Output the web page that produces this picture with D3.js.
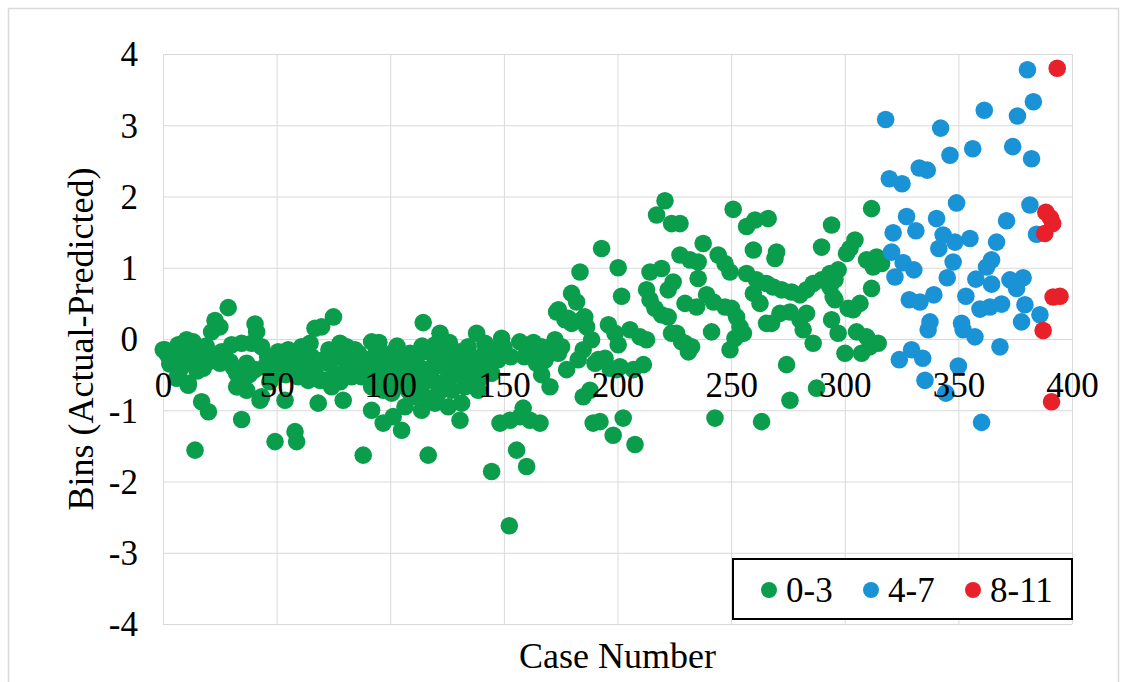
<!DOCTYPE html>
<html>
<head>
<meta charset="utf-8">
<script src="https://cdn.jsdelivr.net/npm/d3@7"></script>
<style>
  body { margin: 0; background: #fff; }
  text { font-family: "Liberation Serif", "Times New Roman", serif; fill: #000; }
</style>
</head>
<body>
<svg id="chart" width="1127" height="682"></svg>
<script>
// case number / bin difference
const green03 = [
  [0.1,-0.15],[0.9,-0.15],[2,-0.22],[4.5,-0.2],[4.5,-0.27],[6.7,-0.08],[6,-0.55],[6.7,-0.5],[8.9,-0.06],[9.7,-0.22],
  [10.4,-0.01],[10.4,-0.25],[11.1,-0.62],[11.1,-0.65],[11.9,-0.04],[13.3,-0.04],[14.1,-0.29],[14.1,-1.56],[14.8,-0.15],[17,-0.2],
  [17,-0.88],[17.7,-0.25],[17.7,-0.41],[20,-0.32],[20,-1.02],[21.4,0.1],[22.9,0.26],[25,0.17],[25.8,-0.18],[25.1,-0.34],
  [28.7,0.44],[29.5,-0.32],[30.2,-0.08],[32.4,-0.48],[32.4,-0.67],[34.6,-0.58],[34.6,-0.06],[34.6,-1.13],[33.1,-0.67],[36.8,-0.72],
  [36.8,-0.34],[39,-0.06],[40.5,0.21],[41.2,0.1],[40.5,-0.43],[42.7,-0.86],[43.4,-0.11],[43.4,-0.81],[44.9,-0.39],[48.5,-0.32],
  [49.3,-0.48],[49.3,-1.44],[50.7,-0.18],[53.7,-0.86],[55.1,-0.15],[58.1,-0.25],[58.1,-1.3],[58.8,-1.44],[59.5,-0.53],[61,-0.11],
  [62.5,-0.39],[63.9,-0.58],[64.7,-0.06],[65.4,-0.25],[66.9,0.15],[66.9,-0.39],[68.3,-0.9],[69.1,-0.58],[69.8,0.17],[71.3,-0.58],
  [72.7,-0.34],[74.2,-0.67],[75,0.31],[75.7,-0.48],[77.9,-0.06],[79.3,-0.86],[80.1,-0.29],[80.8,-0.11],[83,-0.53],[84.5,-0.15],
  [85.9,-0.34],[87.4,-0.53],[88.1,-1.63],[90.3,-0.29],[91.8,-0.04],[91.8,-0.67],[91.8,-1.0],[93.3,-0.43],[94,-0.15],[96.2,-0.29],
  [96.9,-0.72],[96.9,-1.18],[97.7,-0.48],
  [3,-0.35],[8,-0.4],[12,-0.15],[15,-0.45],[19,-0.1],[23,-0.25],[27,-0.2],[31,-0.4],[38,-0.5],[46,-0.25],[47,-0.6],
  [52,-0.35],[54,-0.5],[56,-0.38],[60,-0.3],[63,-0.2],[67,-0.48],[70,-0.3],[73,-0.15],[76,-0.25],[78,-0.6],
  [82,-0.4],[86,-0.2],[89,-0.45],[92,-0.55],[95,-0.05],[99,-0.55],
  [97.7,-0.29],[100.6,-0.2],[100.6,-0.76],[101.3,-1.09],[102.1,-0.39],[103.5,-0.62],[104.3,-0.25],[105,-1.28],[106.5,-0.43],[106.5,-0.95],
  [107.9,-0.72],[108.7,-0.2],[109.4,-0.81],[110.9,-0.48],[112.3,-0.22],[112.3,-0.67],[113.8,-1.0],[114.5,0.23],[115.3,-0.43],[115.3,-0.81],
  [116.7,-0.18],[116.7,-0.58],[116.7,-1.63],[119.7,-0.08],[119.7,-0.34],[119.7,-0.9],[121.1,-0.62],[121.1,-0.76],[121.9,0.08],[122.6,-0.01],
  [122.6,-0.29],[124.1,-0.11],[125.5,-0.58],[125.5,-0.95],[127,-0.25],[127,-0.72],[129.9,-0.5],[130.7,-0.18],[130.7,-1.14],[131.4,-0.34],
  [131.4,-0.9],[132.9,-0.67],[134.3,-0.11],[134.3,-0.53],[135.8,-0.29],[138,0.08],[138.7,-0.58],[138.7,-0.72],[140.2,-0.25],[141.7,-0.06],
  [143.1,-0.34],[144.6,-0.48],[144.6,-1.86],[147.5,-0.29],[148.3,-1.18],[149,0.01],[152.7,-1.14],[152.4,-2.62],[155.6,-1.56],[157,-0.04],
  [103,-0.1],[105,-0.5],[110,-0.3],[111,-0.6],[114,-0.1],[118,-0.45],[120,-0.2],[124,-0.4],[126,-0.05],[128,-0.4],
  [133,-0.2],[136,-0.45],[137,-0.65],[140,-0.4],[142,-0.15],[146,-0.15],[150,-0.12],[153,-0.25],[159,-0.25],[163,-0.05],[168,-0.3],
  [157.1,-1.09],[158.5,-0.97],[160,-1.79],[161.5,-1.14],[162.2,-0.15],[164.4,-0.34],[165.9,-1.18],[166.6,-0.11],[166.6,-0.5],[169.6,-0.22],
  [170.3,-0.67],[172.5,-0.01],[173.2,0.38],[174,0.41],[174,-0.2],[175.4,-0.11],[176.9,0.27],[177.6,-0.43],[178.3,0.29],[179.8,0.64],
  [179.8,0.22],[182,0.52],[182.7,-0.29],[183.5,0.94],[184.2,0.27],[184.9,-0.15],[184.9,-0.81],[185.6,0.31],[186.4,0.17],[187.9,-0.72],
  [188.6,-0.01],[189.3,-1.18],[190.1,-0.34],[191.5,-0.29],[192.3,-1.16],[193,1.27],[194.5,-0.27],[196,0.2],[196.7,-0.41],[198.1,-1.35],
  [198.9,0.08],[199.6,-0.43],
  [200.3,1.0],[200.3,-0.08],[201.1,-0.39],[201.8,0.6],[202.5,-1.11],[205.5,0.13],[207.7,-1.48],[207,-0.43],[209.9,0.03],[211.4,-0.36],
  [212.8,0.69],[212.8,-0.01],[214.3,0.94],[214.3,0.55],[216.5,0.43],[217.2,1.74],[219.4,0.99],[219.4,0.34],[220.9,1.94],[222.3,0.69],
  [222.3,0.31],[223.8,1.62],[223.8,0.08],[224.5,0.8],[226,0.08],[227.5,1.62],[227.5,1.18],[228.2,-0.04],[229.7,0.5],[229.7,-0.06],
  [231.2,-0.18],[231.9,1.11],[232.6,-0.11],[234.8,0.45],[235.5,1.08],[235.5,0.85],[237.7,1.34],[239.2,0.62],[241.4,0.1],[242.2,0.52],
  [242.9,-1.11],[244.3,1.18],[247.3,1.06],[247.3,0.45],[249.5,0.94],[249.5,-0.15],[250.2,0.43],[250.9,1.82],[251.7,0.01],[252.4,0.31],
  [253.9,0.17],[255.4,0.08],[256.8,1.58],[256.8,0.92],[259.8,1.25],[259.8,0.64],[260.5,1.67],[261.2,0.83],[262.7,0.5],[263.4,-1.16],
  [265.6,0.78],[265.6,0.22],[266.3,1.69],[267.8,0.22],[268.5,0.73],[269.3,1.13],[270,1.22],[271.5,0.36],[272.2,0.69],[274.4,-0.36],
  [275.9,0.38],[275.9,-0.86],[276.6,0.66],[280.3,0.62],[280.3,0.27],[281.7,0.13],[283.2,0.69],[283.2,0.36],[286.1,0.78],[286.1,-0.06],
  [287.6,-0.69],[289.8,1.29],[289.8,0.83],[293.5,0.92],[293.5,0.73],[294.2,1.6],[294.2,0.27],[294.9,0.59],[295.7,0.55],[295.7,0.83],
  [297.1,0.97],[297.1,0.08],[300.1,-0.2],
  [300.8,1.2],[301.5,0.43],[302.3,1.27],[303.7,0.41],[304.5,1.39],[305.2,0.1],[306.7,0.5],[307.4,-0.2],[309.6,1.11],[309.6,0.03],
  [311,-0.11],[311.8,1.83],[311.8,0.71],[312.5,1.01],[314,1.15],[314.7,-0.06],[316.2,1.06]
];

const blue47 = [
  [318,3.08],[319.6,2.25],[320.6,1.22],[321.3,1.49],[322.1,0.87],[324,-0.29],[325.2,2.18],[325.7,1.07],[327.2,1.72],[328.4,0.55],
  [329.4,-0.15],[330.4,0.97],[331.3,1.52],[332.8,2.4],[333.1,0.52],[334.3,-0.27],[335.3,-0.58],[336.3,2.37],[336.7,0.13],[337.5,0.24],
  [339.2,0.62],[340.4,1.69],[341.4,1.27],[342.2,2.96],[343.3,1.46],[344.5,-0.76],[345.1,0.86],[346.3,2.58],[347.7,1.08],[348.5,1.36],
  [349.2,1.91],[350,-0.38],[351.4,0.22],[352.1,0.13],[353.3,0.6],[355.1,1.41],[356.3,2.67],[357.3,0.03],[357.7,0.84],[359.5,0.42],
  [360.2,-1.17],[361.4,3.21],[362.4,1.01],[363.9,0.45],[364.6,1.11],[364.6,0.77],[366.8,1.36],[368.3,-0.11],[369,0.49],[371.2,1.66],
  [372.7,0.83],[373.9,2.7],[375.6,0.71],[376,3.13],[377.8,0.24],[378.5,0.86],[379.3,0.48],[380.4,3.78],[381.5,1.88],[382.2,2.53],
  [383,3.33],[384.4,1.47],[385.9,0.34]
];

const red811 = [
  [387.3,0.12],[388,1.48],[388.5,1.78],[390.5,1.7],[391.5,1.62],[391,-0.88],[391.7,0.59],[393.5,3.8],[394.7,0.6]
];

const xTicks = [0, 50, 100, 150, 200, 250, 300, 350, 400];
const yTicks = [-4, -3, -2, -1, 0, 1, 2, 3, 4];
const legendNames = ['0-3', '4-7', '8-11'];
const colors = ['#0a9e4c', '#1a93d6', '#e8202a'];

const svg = d3.select('#chart');
const plotL = 163, plotR = 1072, plotT = 54, plotB = 624;

// outer frame
svg.append('rect')
  .attr('x', 8.5).attr('y', 8.5).attr('width', 1110).attr('height', 700)
  .style('fill', 'none').style('stroke', '#d9d9d9').style('stroke-width', '1.5px');

let xScale = d3.scaleLinear().domain([0, 400]).range([plotL, plotR]);
let yScale = d3.scaleLinear().domain([-4, 4]).range([plotB, plotT]);

// grid + y labels (plain hyphen for negatives, like the original)
let yAxis = d3.axisLeft(yScale).tickValues(yTicks).tickFormat(d => String(d))
  .tickSize(-(plotR - plotL)).tickPadding(25);
let yG = svg.append('g').attr('transform', `translate(${plotL}, 0)`).call(yAxis);
yG.select('.domain').remove();
yG.selectAll('line').style('stroke', '#d9d9d9');
yG.selectAll('text').style('font-size', '35px').attr('dy', '0.34em');

let xGrid = d3.axisBottom(xScale).tickValues(xTicks).tickSize(-(plotB - plotT)).tickFormat('');
let xG = svg.append('g').attr('transform', `translate(0, ${plotB})`).call(xGrid);
xG.select('.domain').remove();
xG.selectAll('line').style('stroke', '#d9d9d9');

// points
const series = [green03, blue47, red811];
series.forEach((pts, i) => {
  svg.append('g').selectAll('circle')
    .data(pts).enter().append('circle')
    .attr('cx', d => xScale(d[0]))
    .attr('cy', d => yScale(d[1]))
    .attr('r', 8.8)
    .style('fill', colors[i]);
});

// x labels sit on the zero line, above the dots
let xAxis = d3.axisBottom(xScale).tickValues(xTicks).tickSize(0).tickPadding(33);
let xL = svg.append('g').attr('transform', `translate(0, ${yScale(0)})`).call(xAxis);
xL.select('.domain').remove();
xL.selectAll('text').style('font-size', '35px');

// axis titles
svg.append('text')
  .attr('x', (plotL + plotR) / 2).attr('y', 668)
  .attr('text-anchor', 'middle')
  .style('font-size', '36px')
  .text('Case Number');

svg.append('text')
  .attr('transform', `translate(93, ${yScale(0)}) rotate(-90)`)
  .attr('text-anchor', 'middle')
  .style('font-size', '36px')
  .text('Bins (Actual-Predicted)');

// legend
let lg = svg.append('g');
lg.append('rect')
  .attr('x', 733).attr('y', 559).attr('width', 339).attr('height', 60)
  .style('fill', '#fff').style('stroke', '#000').style('stroke-width', '2px');
legendNames.forEach((name, i) => {
  let cx = 769 + i * 102;
  lg.append('circle').attr('cx', cx).attr('cy', 590).attr('r', 8).style('fill', colors[i]);
  lg.append('text').attr('x', cx + 17).attr('y', 602).style('font-size', '35px').text(name);
});
</script>
</body>
</html>
